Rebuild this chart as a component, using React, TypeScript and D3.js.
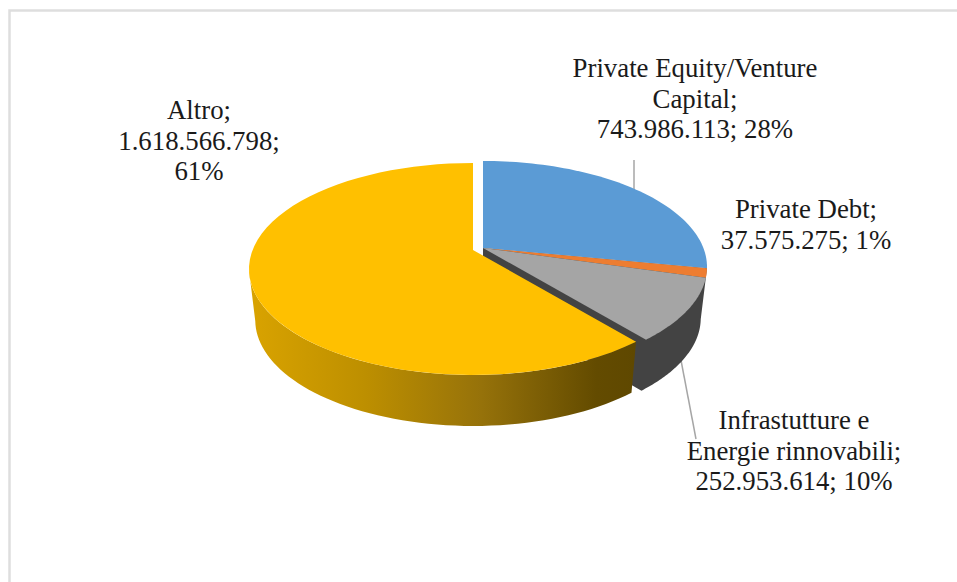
import React from "react";
import * as d3 from "d3";

const categories = ["Private Equity/Venture Capital", "Private Debt", "Infrastutture e Energie rinnovabili", "Altro"];
const values = [743986113, 37575275, 252953614, 1618566798];
const sliceColors = ["#5b9bd5", "#ed7d31", "#a5a5a5", "#ffc000"];
const labelLines = [
  ["Private Equity/Venture", "Capital;", "743.986.113; 28%"],
  ["Private Debt;", "37.575.275; 1%"],
  ["Infrastutture e", "Energie rinnovabili;", "252.953.614; 10%"],
  ["Altro;", "1.618.566.798;", "61%"],
];
const labelAnchors: [number, number][] = [[695, 77], [806, 218], [794, 429], [199, 119]];
const LINE_H = 30.5;

const cx = 483, cy = 248, A = 220.4, B = 102.6, P = 0.179, DEPTH = 51, SHRINK = 0.972;
const goldDx = -10, goldDy = 2;

const project = (angle: number, r: number, bottom: boolean, dx = 0, dy = 0): [number, number] => {
  const u = r * Math.sin(angle), v = -r * Math.cos(angle);
  const w = 1 - P * v;
  return [
    cx + dx + (A * u / w) * (bottom ? SHRINK : 1),
    cy + dy + (B * v) / w + (bottom ? DEPTH : 0),
  ];
};

const pieGen = d3.pie<number>().sort(null).value((d) => d);
const arcs = pieGen(values);
const line = d3.line();

const sampleRim = (a0: number, a1: number, bottom: boolean, dx = 0, dy = 0) =>
  d3.range(0, 61).map((i) => project(a0 + ((a1 - a0) * i) / 60, 1, bottom, dx, dy));

const topFace = (a0: number, a1: number, dx = 0, dy = 0) =>
  line([project(0, 0, false, dx, dy), ...sampleRim(a0, a1, false, dx, dy)])! + "Z";

const wall = (a0: number, a1: number, dx = 0, dy = 0) =>
  line([...sampleRim(a0, a1, false, dx, dy), ...sampleRim(a1, a0, true, dx, dy)])! + "Z";

// outer wall and inner cut face of a slice, as one outline
const darkBody = (a0: number, a1: number) =>
  line([
    project(0, 0, false),
    ...sampleRim(a0, a1, false).slice(0, 1),
    ...sampleRim(a0, a1, true),
    project(0, 0, true),
  ])! + "Z";

export default function App() {
  const [blue, orange, gray, gold] = arcs;
  return (
    <svg width={957} height={582} viewBox="0 0 957 582"
      style={{ position: "absolute", left: 0, top: 0, display: "block", background: "#fff" }}>
      <defs>
        <linearGradient id="goldWall" gradientUnits="userSpaceOnUse" x1={250} x2={635} y1={0} y2={0}>
          <stop offset="0" stopColor="#d9a300" />
          <stop offset="0.3" stopColor="#bd8f00" />
          <stop offset="0.6" stopColor="#96720a" />
          <stop offset="0.9" stopColor="#634b00" />
          <stop offset="1" stopColor="#5f4800" />
        </linearGradient>
      </defs>
      <path d="M9.5 582V10.5H957" fill="none" stroke="#dedede" strokeWidth={2.5} />

      <path d={line([[634, 160], [634, 190]])!} stroke="#a6a6a6" strokeWidth={1.5} fill="none" />
      <path d={line([[680, 355], [696, 439]])!} stroke="#a6a6a6" strokeWidth={1.5} fill="none" />

      {/* dark walls of the grey slice */}
      <path d={darkBody(blue.endAngle, gray.endAngle)} fill="#434343" />

      <path d={topFace(blue.startAngle, blue.endAngle)} fill={sliceColors[0]} />
      <path d={topFace(orange.startAngle, orange.endAngle)} fill={sliceColors[1]} />
      <path d={topFace(gray.startAngle, gray.endAngle)} fill={sliceColors[2]} />

      {/* gold slice, pulled out of the pie */}
      <path d={wall(gold.startAngle, Math.PI * 1.44, goldDx, goldDy)} fill="url(#goldWall)" />
      <path d={topFace(gold.startAngle, gold.endAngle, goldDx, goldDy)} fill={sliceColors[3]} />

      <g fontFamily="'Liberation Serif', serif" fontSize={26.8} fill="#1a1a1a" textAnchor="middle">
        {labelLines.map((lines, i) => (
          <text key={categories[i]} x={labelAnchors[i][0]} y={labelAnchors[i][1]}>
            {lines.map((t, j) => (
              <tspan key={j} x={labelAnchors[i][0]} dy={j === 0 ? 0 : LINE_H}>{t}</tspan>
            ))}
          </text>
        ))}
      </g>
    </svg>
  );
}
